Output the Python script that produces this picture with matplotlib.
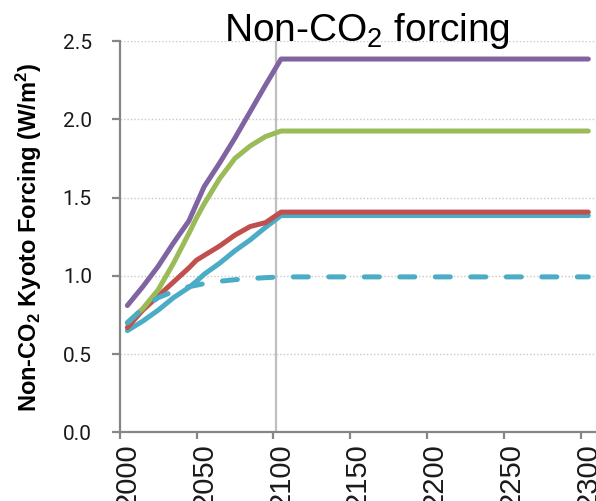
import matplotlib
matplotlib.use('Agg')
import matplotlib.pyplot as plt

# Non-CO2 Kyoto forcing pathways (W/m2), held constant after 2100
years = [2000, 2010, 2020, 2030, 2040, 2045, 2050, 2060, 2070, 2080, 2090, 2100, 2300]
purple = [0.81, 0.93, 1.06, 1.21, 1.35, 1.46, 1.57, 1.72, 1.88, 2.05, 2.22, 2.385, 2.385]
green = [0.70, 0.79, 0.91, 1.08, 1.27, 1.37, 1.46, 1.62, 1.75, 1.83, 1.89, 1.925, 1.925]
red = [0.67, 0.78, 0.87, 0.96, 1.05, 1.10, 1.13, 1.19, 1.26, 1.315, 1.34, 1.407, 1.407]
cyan = [0.65, 0.71, 0.78, 0.86, 0.925, 0.965, 1.01, 1.08, 1.16, 1.23, 1.31, 1.385, 1.385]
cyan_dashed = [0.70, 0.79, 0.86, 0.90, 0.93, 0.94, 0.95, 0.965, 0.975, 0.982, 0.988, 0.993, 0.993]

yticks = [0.0, 0.5, 1.0, 1.5, 2.0, 2.5]
xlabels = [2000, 2050, 2100, 2150, 2200, 2250, 2300]

fig = plt.figure(figsize=(5.96, 5.01), dpi=100)
ax = fig.add_axes([0.2008, 0.1371, 0.7992, 0.781])

lw = 3.6
ax.plot(years, cyan, color='#4BACC6', lw=lw, solid_capstyle='round', zorder=3)
ax.plot(years, red, color='#C0504D', lw=lw, solid_capstyle='round', zorder=4)
ax.plot(years, green, color='#9BBB59', lw=lw, solid_capstyle='round', zorder=5)
ax.plot(years, purple, color='#8064A2', lw=lw, solid_capstyle='round', zorder=6)
ax.plot(years, cyan_dashed, color='#4BACC6', lw=lw, dashes=(3.0, 4.1),
        dash_capstyle='round', zorder=7)

# marker line at the end of the century
ax.axvline(2097, color='#BFBFBF', lw=1.6, zorder=2)

ax.set_xlim(1995, 2305)
ax.set_ylim(0, 2.5)
ax.set_yticks(yticks)
ax.set_yticklabels(['%.1f' % v for v in yticks])

# tick marks sit between categories, labels sit on the categories
ax.set_xticks([v - 5 for v in xlabels])
ax.set_xticklabels([])
ax.set_xticks(xlabels, minor=True)
ax.set_xticklabels([str(v) for v in xlabels], minor=True, rotation=90)

ax.yaxis.grid(True, color='#C8C8C8', linestyle=(0, (1, 1.5)), lw=1.0)
ax.set_axisbelow(True)

for side in ['top', 'right']:
    ax.spines[side].set_visible(False)
for side in ['left', 'bottom']:
    ax.spines[side].set_color('#868686')
    ax.spines[side].set_linewidth(1.6)

ax.tick_params(axis='y', direction='out', length=6, width=1.6, color='#868686',
               pad=14, labelsize=15, labelcolor='#1a1a1a')
ax.tick_params(axis='x', which='major', direction='out', length=5, width=1.6,
               color='#868686')
ax.tick_params(axis='x', which='minor', length=0, pad=8, labelsize=21,
               labelcolor='#1a1a1a')
for lab in ax.get_yticklabels():
    lab.set_fontfamily('Roboto')
for lab in ax.get_xticklabels(minor=True):
    lab.set_fontfamily('Liberation Sans')

fig.text(0.6155, 0.918, r'Non-CO$\mathregular{_2}$ forcing', ha='center',
         va='baseline', fontsize=28, family='Liberation Sans')
fig.text(0.0487, 0.526, r'Non-CO$\mathregular{_2}$ Kyoto Forcing (W/m$\mathregular{^2}$)',
         rotation=90, ha='center', va='center', fontsize=17, fontweight='bold',
         family='Liberation Sans')

fig.savefig('out.png', dpi=100)
